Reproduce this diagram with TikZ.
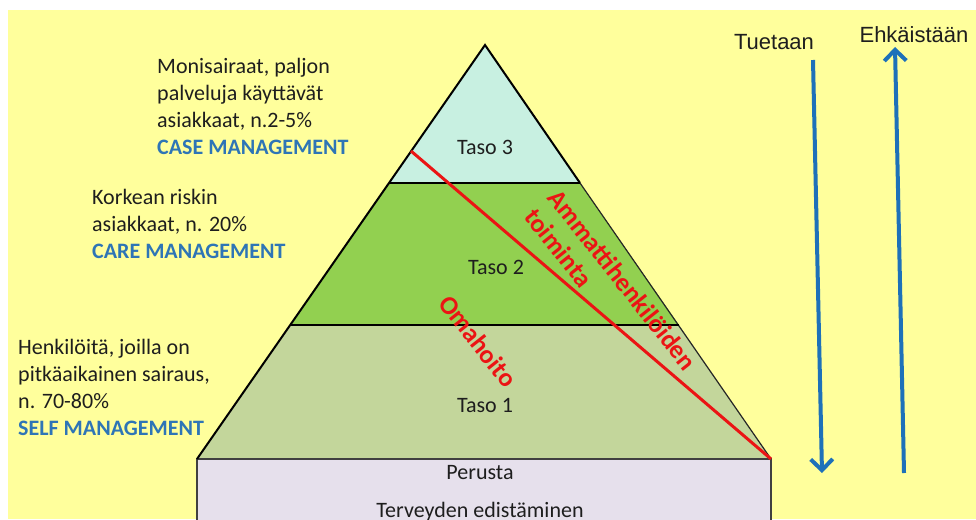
\documentclass[tikz,border=0pt]{standalone}
\usepackage{fontspec}
\setmainfont{Carlito}
\newfontfamily\arialfont{Liberation Sans}
\usetikzlibrary{arrows.meta}
\definecolor{bgyellow}{RGB}{255,255,156}
\definecolor{tthree}{RGB}{200,240,225}
\definecolor{ttwo}{RGB}{146,208,80}
\definecolor{tone}{RGB}{195,214,155}
\definecolor{basefill}{RGB}{230,224,236}
\definecolor{txtgray}{RGB}{30,30,30}
\definecolor{mgblue}{RGB}{46,117,182}
\definecolor{arrblue}{RGB}{30,113,185}
\definecolor{redline}{RGB}{235,20,20}
\tikzset{
  sidetext/.style={inner sep=0pt, anchor=west, align=left, text=txtgray, font=\fontsize{22}{27}\selectfont},
  tasotext/.style={inner sep=0pt, text=txtgray, font=\fontsize{22}{27}\selectfont},
  redtext/.style={inner sep=0pt, text=redline, font=\fontsize{26}{30}\selectfont\bfseries, rotate=-51.6},
  arrtext/.style={inner sep=0pt, text=txtgray, font=\arialfont\fontsize{22}{26}\selectfont},
  bluearrow/.style={draw=arrblue, line width=4pt, -{Straight Barb[length=11pt,width=22pt]}},
  leftedge/.style={draw=black, line width=2pt},
  rightedge/.style={draw=black!85, line width=1.2pt},
  hline/.style={draw=black, line width=2.6pt},
}
\begin{document}
\begin{tikzpicture}[x=1pt,y=-1pt]
\useasboundingbox (0,0) rectangle (976,519);
\clip (0,0) rectangle (976,519);
\fill[white] (0,0) rectangle (976,519);
\fill[bgyellow] (8,10) rectangle (976,519);

% pyramid coordinates
\coordinate (A) at (485,45);
\coordinate (L3) at (389,183);
\coordinate (R3) at (580,183);
\coordinate (L2) at (291,325);
\coordinate (R2) at (679,325);
\coordinate (L1) at (197,459);
\coordinate (R1) at (771,459);
\coordinate (BL) at (197,540);
\coordinate (BR) at (771,540);
\coordinate (RS) at (411,151);

\fill[tthree] (A) -- (L3) -- (R3) -- cycle;
\fill[ttwo] (L3) -- (L2) -- (R2) -- (R3) -- cycle;
\fill[tone] (L2) -- (L1) -- (R1) -- (R2) -- cycle;
\fill[basefill] (L1) rectangle (BR);
\draw[draw=black!75, line width=1.5pt] (BL) -- (L1) -- (R1) -- (BR);
\draw[leftedge] (L1) -- (A) -- (R3);
\draw[rightedge] (R3) -- (R1);
\draw[hline] (L3) -- (R3);
\draw[hline] (L2) -- (R2);

% red diagonal
\draw[draw=redline, line width=3pt] (RS) -- (R1);

% level labels
\node[tasotext] (t3) at (485,147) {Taso 3};
\node[tasotext] (t2) at (496,267) {Taso 2};
\node[tasotext] (t1) at (485,405) {Taso 1};
\node[tasotext] (per) at (480,473) {Perusta};
\node[tasotext] (ter) at (480,512) {Terveyden edistäminen};

% rotated red labels
\node[redtext, align=left] (amm) at (611,289) {Ammattihenkilöiden\\toiminta};
\node[redtext] (oma) at (478,341) {Omahoito};

% side texts
\node[sidetext] (s3) at (157,106) {Monisairaat, paljon\\palveluja käyttävät\\asiakkaat, n.2-5\%\\{\bfseries\color{mgblue}CASE MANAGEMENT}};
\node[sidetext] (s2) at (92,224) {Korkean riskin\\asiakkaat, n. 20\%\\{\bfseries\color{mgblue}CARE MANAGEMENT}};
\node[sidetext] (s1) at (18,387) {Henkilöitä, joilla on\\pitkäaikainen sairaus,\\n. 70-80\%\\{\bfseries\color{mgblue}SELF MANAGEMENT}};

% arrows
\node[arrtext] (tue) at (774,42) {Tuetaan};
\node[arrtext] (ehk) at (914,35) {Ehkäistään};
\coordinate (d1) at (813,60);
\coordinate (d2) at (822,473);
\coordinate (u1) at (904,473);
\coordinate (u2) at (895,47);
\draw[bluearrow] (d1) -- (d2);
\draw[bluearrow] (u1) -- (u2);
\end{tikzpicture}
\end{document}
